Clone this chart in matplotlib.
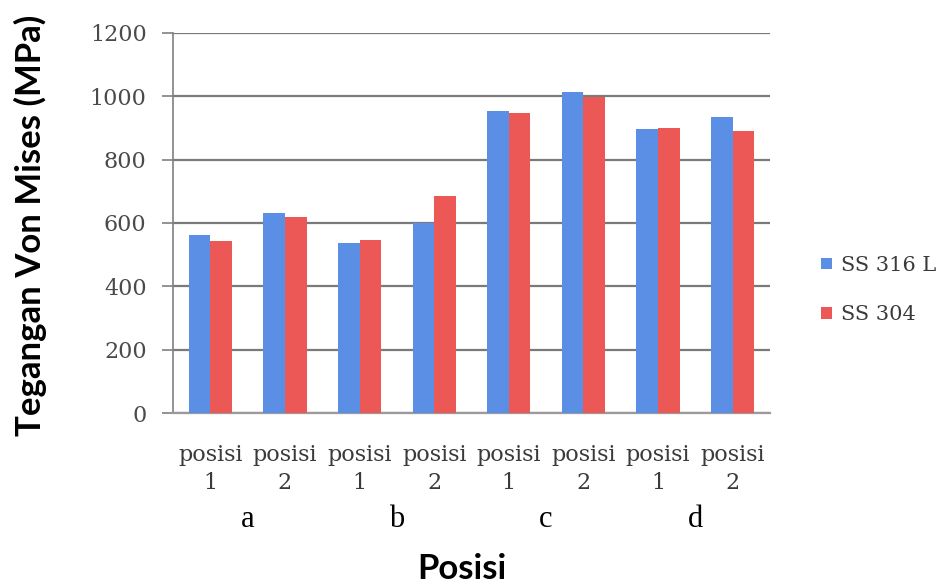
import matplotlib
matplotlib.use("Agg")
import matplotlib.pyplot as plt
import matplotlib.transforms as mtransforms
import numpy as np

# Von Mises stress per measuring position
categories = ["posisi\n1", "posisi\n2", "posisi\n1", "posisi\n2",
              "posisi\n1", "posisi\n2", "posisi\n1", "posisi\n2"]
ss316l = [562, 632, 538, 599, 955, 1015, 897, 936]
ss304 = [543, 620, 546, 685, 946, 999, 899, 892]
series_names = ["SS 316 L", "SS 304"]
group_letters = ["a", "b", "c", "d"]
yticks = [0, 200, 400, 600, 800, 1000, 1200]

W, H = 941, 588
fig = plt.figure(figsize=(W / 100, H / 100), dpi=100)
ax = fig.add_axes([173 / W, 1 - 413 / H, (770 - 173) / W, (413 - 33) / H])

x = np.arange(len(categories))
w = 0.29
blue = "#5b8fe6"
red = "#ec5855"
ax.bar(x - w / 2, ss316l, w, color=blue, label=series_names[0], zorder=3)
ax.bar(x + w / 2, ss304, w, color=red, label=series_names[1], zorder=3)

ax.set_ylim(0, 1200)
ax.set_xlim(-0.5, len(categories) - 0.5)
ax.set_yticks(yticks)
ax.set_yticklabels([str(v) for v in yticks], family="DejaVu Serif",
                   fontsize=16, color="#4a4a4a")
ax.set_xticks(x)
ax.set_xticklabels(categories, family="DejaVu Serif", fontsize=16,
                   color="#3a3a3a", linespacing=1.35)
ax.tick_params(axis="x", length=0, pad=22)
ax.tick_params(axis="y", length=8, width=1.2, color="#808080", pad=11)

ax.yaxis.grid(True, color="#7a7a7a", linewidth=1.6, zorder=1)
ax.set_axisbelow(True)
for s in ["top", "right"]:
    ax.spines[s].set_visible(False)
ax.spines["left"].set_color("#808080")
ax.spines["left"].set_linewidth(1.2)
ax.spines["bottom"].set_color("#9a9a9a")
ax.spines["bottom"].set_linewidth(1.6)

leg = ax.legend(loc="center left", bbox_to_anchor=(813 / W, 1 - 290 / H),
                bbox_transform=fig.transFigure, frameon=False,
                handlelength=0.5, handleheight=0.5, handletextpad=0.45,
                labelspacing=1.45, borderaxespad=0,
                prop={"family": "DejaVu Serif", "size": 15})
for t in leg.get_texts():
    t.set_color("#3a3a3a")

# group letters centred under each pair of positions
letter_tf = mtransforms.blended_transform_factory(ax.transData, fig.transFigure)
for i, lt in enumerate(group_letters):
    ax.text(2 * i + 0.5, 1 - 527 / H, lt, transform=letter_tf,
            family="Liberation Serif", fontsize=22, ha="center",
            va="baseline", color="black")

fig.text(462 / W, 1 - 569 / H, "Posisi", family="Lato",
         fontweight="bold", fontsize=25, ha="center", va="center")
fig.text(30 / W, 1 - 225 / H, "Tegangan Von Mises (MPa)", family="Lato",
         fontweight="bold", fontsize=25, ha="center", va="center", rotation=90)

fig.savefig("out.png", dpi=100, facecolor="white")
